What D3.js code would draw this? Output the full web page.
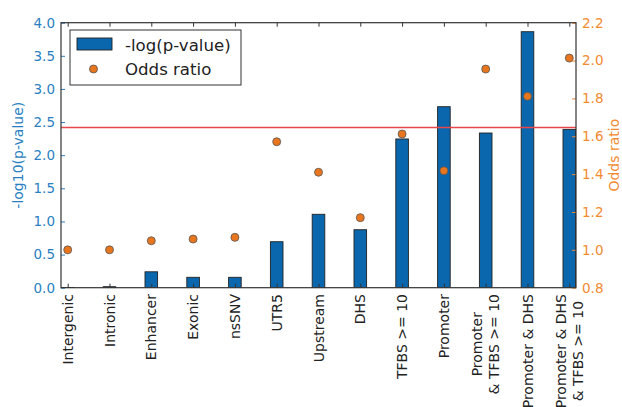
<!DOCTYPE html>
<html>
<head>
<meta charset="utf-8">
<script src="https://cdn.jsdelivr.net/npm/d3@7"></script>
<style>
  body { margin: 0; background: #fff; }
  text { font-family: "DejaVu Sans", sans-serif; }
</style>
</head>
<body>
<div id="chart"></div>
<script>
// categories and values
var categories = ["Intergenic", "Intronic", "Enhancer", "Exonic", "nsSNV", "UTR5", "Upstream", "DHS",
    "TFBS >= 10", "Promoter", "Promoter\n& TFBS >= 10", "Promoter & DHS", "Promoter & DHS\n& TFBS >= 10"];
var logP = [0.004, 0.015, 0.24, 0.157, 0.157, 0.694, 1.108, 0.875, 2.245, 2.732, 2.335, 3.864, 2.39];
var oddsRatio = [1.0, 1.0, 1.048, 1.057, 1.066, 1.571, 1.41, 1.17, 1.612, 1.418, 1.955, 1.811, 2.013];
var threshold = 2.42;
var leftTicks = [0, 0.5, 1, 1.5, 2, 2.5, 3, 3.5, 4];
var rightTicks = [0.8, 1.0, 1.2, 1.4, 1.6, 1.8, 2.0, 2.2];

var W = 622, H = 407;
// plot box (window.top is read-only, so no "top" variable here)
var pL = 61, pR = 576, pT = 22.7, pB = 287.7;

var blue = "#0a67ad", blueText = "#2a7fc2";
var orange = "#e8761e", orangeText = "#f28a30";

var svg = d3.select("#chart").append("svg")
    .attr("width", W)
    .attr("height", H);

svg.append("defs").append("clipPath").attr("id", "plotclip")
    .append("rect")
    .attr("x", pL).attr("y", pT)
    .attr("width", pR - pL).attr("height", pB - pT);

var x = d3.scalePoint()
    .domain(categories)
    .range([67.7, 569.3]);

var yL = d3.scaleLinear()
    .domain([0, 4])
    .range([pB, pT]);

var yR = d3.scaleLinear()
    .domain([0.8, 2.2])
    .range([pB, pT]);

var barW = 12.6;

// bars
svg.append("g")
    .attr("clip-path", "url(#plotclip)")
    .selectAll("rect")
    .data(categories)
    .enter()
    .append("rect")
    .attr("x", function (d) { return x(d) - barW / 2; })
    .attr("y", function (d, i) { return yL(logP[i]); })
    .attr("width", barW)
    .attr("height", function (d, i) { return pB - yL(logP[i]); })
    .attr("fill", blue)
    .attr("stroke", "#222")
    .attr("stroke-width", 0.9);

// significance line
svg.append("line")
    .attr("x1", pL).attr("x2", pR)
    .attr("y1", yL(threshold)).attr("y2", yL(threshold))
    .attr("stroke", "#e8474e")
    .attr("stroke-width", 1.5);

// odds ratio dots
svg.append("g")
    .selectAll("circle")
    .data(categories)
    .enter()
    .append("circle")
    .attr("cx", function (d) { return x(d); })
    .attr("cy", function (d, i) { return yR(oddsRatio[i]); })
    .attr("r", 4)
    .attr("fill", orange)
    .attr("stroke", "#555")
    .attr("stroke-width", 0.8);

// left axis (ticks inside)
var axL = svg.append("g")
    .attr("transform", "translate(" + pL + ",0)")
    .call(d3.axisLeft(yL).tickValues(leftTicks).tickFormat(d3.format(".1f")).tickSizeInner(-4).tickSizeOuter(0).tickPadding(6));
axL.select(".domain").remove();
axL.selectAll("line").attr("stroke", blueText);
axL.selectAll("text").attr("fill", blueText).style("font-size", "13.5px");

// right axis (ticks inside)
var axR = svg.append("g")
    .attr("transform", "translate(" + pR + ",0)")
    .call(d3.axisRight(yR).tickValues(rightTicks).tickFormat(d3.format(".1f")).tickSizeInner(-4).tickSizeOuter(0).tickPadding(6));
axR.select(".domain").remove();
axR.selectAll("line").attr("stroke", orangeText);
axR.selectAll("text").attr("fill", orangeText).style("font-size", "13.5px");

// top and bottom ticks
var axT = svg.append("g")
    .attr("transform", "translate(0," + pT + ")")
    .call(d3.axisTop(x).tickSizeInner(-4).tickSizeOuter(0).tickFormat(""));
axT.select(".domain").remove();
axT.selectAll("line").attr("stroke", "#333");

var axB = svg.append("g")
    .attr("transform", "translate(0," + pB + ")")
    .call(d3.axisBottom(x).tickSizeInner(-4).tickSizeOuter(0).tickFormat(""));
axB.select(".domain").remove();
axB.selectAll("line").attr("stroke", "#333");

// frame
svg.append("rect")
    .attr("x", pL).attr("y", pT)
    .attr("width", pR - pL).attr("height", pB - pT)
    .attr("fill", "none")
    .attr("stroke", "#333")
    .attr("stroke-width", 1.2);

// rotated category labels, multi-line centred on each other
var labTop = 294, lineGap = 16.5;
categories.forEach(function (c) {
    var lines = c.split("\n");
    var g = svg.append("g")
        .attr("transform", "translate(" + x(c) + "," + labTop + ") rotate(-90)");
    var texts = lines.map(function (l, i) {
        return g.append("text")
            .attr("y", (i - (lines.length - 1) / 2) * lineGap)
            .attr("dominant-baseline", "central")
            .attr("text-anchor", "middle")
            .attr("fill", "#222")
            .style("font-size", "14px")
            .text(l);
    });
    var maxW = d3.max(texts, function (t) { return t.node().getComputedTextLength(); });
    texts.forEach(function (t) { t.attr("x", -maxW / 2); });
});

// axis titles
svg.append("text")
    .attr("transform", "translate(18," + ((pT + pB) / 2) + ") rotate(-90)")
    .attr("text-anchor", "middle")
    .attr("dominant-baseline", "central")
    .attr("fill", blueText)
    .style("font-size", "14px")
    .text("-log10(p-value)");

svg.append("text")
    .attr("transform", "translate(614," + ((pT + pB) / 2) + ") rotate(-90)")
    .attr("text-anchor", "middle")
    .attr("dominant-baseline", "central")
    .attr("fill", orangeText)
    .style("font-size", "14px")
    .text("Odds ratio");

// legend
var lg = svg.append("g");
lg.append("rect")
    .attr("x", 70).attr("y", 30).attr("width", 171).attr("height", 55)
    .attr("fill", "#fff").attr("stroke", "#333").attr("stroke-width", 1);
lg.append("rect")
    .attr("x", 77).attr("y", 38).attr("width", 35).attr("height", 12)
    .attr("fill", blue).attr("stroke", "#222").attr("stroke-width", 0.9);
lg.append("circle")
    .attr("cx", 93.5).attr("cy", 69).attr("r", 4)
    .attr("fill", orange).attr("stroke", "#555").attr("stroke-width", 0.8);
lg.append("text")
    .attr("x", 125).attr("y", 45).attr("dominant-baseline", "central")
    .attr("fill", "#222").style("font-size", "16.6px")
    .text("-log(p-value)");
lg.append("text")
    .attr("x", 125).attr("y", 69).attr("dominant-baseline", "central")
    .attr("fill", "#222").style("font-size", "16.6px")
    .text("Odds ratio");
</script>
</body>
</html>
